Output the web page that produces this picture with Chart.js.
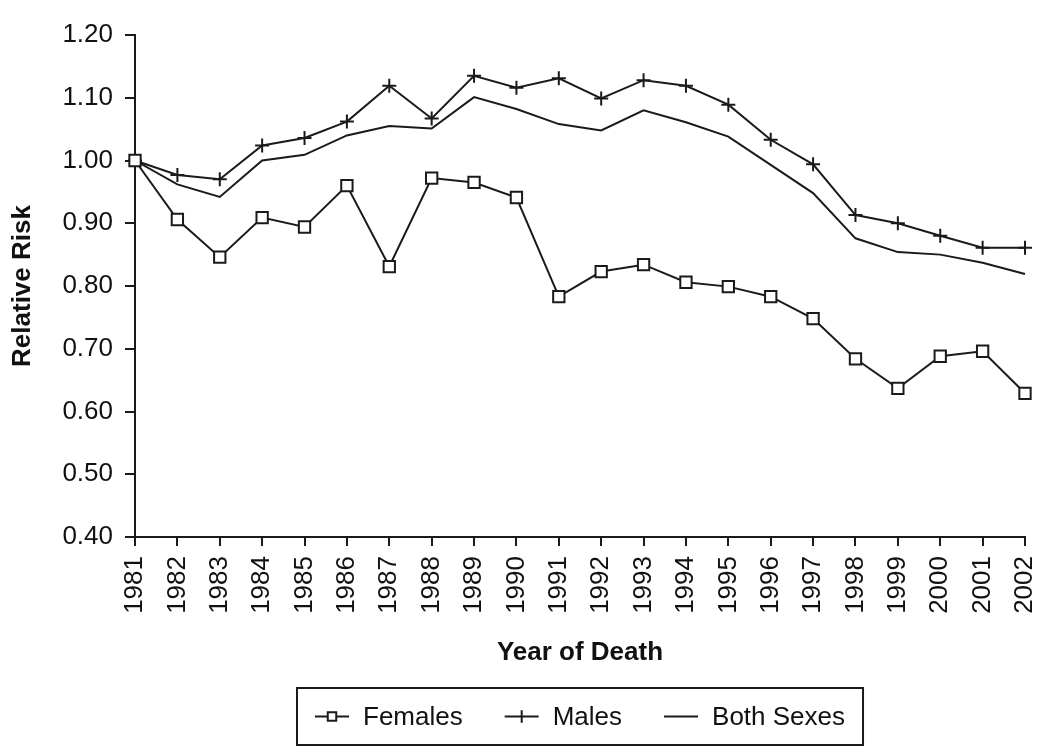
<!DOCTYPE html>
<html>
<head>
<meta charset="utf-8">
<script src="https://cdn.jsdelivr.net/npm/chart.js@4/dist/chart.umd.min.js"></script>
<style>
  body { margin: 0; background: #fff; }
  #wrap { width: 1050px; height: 752px; }
</style>
</head>
<body>
<div id="wrap"><canvas id="riskChart" width="1050" height="752"></canvas></div>
<script>
const years = ['1981', '1982', '1983', '1984', '1985', '1986', '1987', '1988', '1989', '1990', '1991',
               '1992', '1993', '1994', '1995', '1996', '1997', '1998', '1999', '2000', '2001', '2002'];

const females = [1.000, 0.906, 0.846, 0.909, 0.894, 0.960, 0.831, 0.972, 0.965, 0.941, 0.783,
                 0.823, 0.834, 0.806, 0.799, 0.783, 0.748, 0.684, 0.637, 0.688, 0.696, 0.629];

const males = [1.000, 0.977, 0.970, 1.024, 1.036, 1.062, 1.119, 1.067, 1.135, 1.116, 1.131,
               1.099, 1.128, 1.119, 1.089, 1.033, 0.994, 0.913, 0.900, 0.880, 0.861, 0.861];

const bothSexes = [1.000, 0.962, 0.942, 1.000, 1.009, 1.040, 1.055, 1.051, 1.101, 1.082, 1.058,
                   1.048, 1.080, 1.061, 1.038, 0.993, 0.948, 0.876, 0.854, 0.850, 0.837, 0.819];

const yMin = 0.40, yMax = 1.20, yStep = 0.10;

const ink = '#1a1a1a';
const fontFamily = '"Liberation Sans", Arial, Helvetica, sans-serif';

// legend drawn by hand: line with the point marker in the middle, boxed
const boxLegend = {
    id: 'boxLegend',
    afterDraw(chart) {
        const ctx = chart.ctx;
        const area = chart.chartArea;
        const sets = chart.data.datasets;
        const markerW = 34, gap = 14, spacing = 42, padX = 18;
        const top = 688, height = 57;

        ctx.save();
        ctx.font = '26px ' + fontFamily;
        let total = padX * 2;
        const widths = sets.map(ds => ctx.measureText(ds.label).width);
        widths.forEach((w, i) => {
            total += markerW + gap + w;
            if (i < widths.length - 1) total += spacing;
        });
        const cx = (area.left + area.right) / 2;
        let left = Math.round(cx - total / 2);

        ctx.strokeStyle = ink;
        ctx.lineWidth = 2;
        ctx.strokeRect(left, top, total, height);

        let x = left + padX;
        const midY = top + height / 2;
        sets.forEach((ds, i) => {
            ctx.strokeStyle = ink;
            ctx.lineWidth = 2;
            ctx.beginPath();
            ctx.moveTo(x, midY);
            ctx.lineTo(x + markerW, midY);
            ctx.stroke();
            if (ds.pointRadius > 0) {
                ctx.fillStyle = '#fff';
                ctx.beginPath();
                if (ds.pointStyle === 'rect') {
                    const s = ds.pointRadius * 0.75 * Math.SQRT1_2;
                    ctx.rect(x + markerW / 2 - s, midY - s, s * 2, s * 2);
                    ctx.fill();
                    ctx.stroke();
                } else {
                    const r = ds.pointRadius * 0.9;
                    ctx.moveTo(x + markerW / 2, midY - r);
                    ctx.lineTo(x + markerW / 2, midY + r);
                    ctx.stroke();
                }
            }
            x += markerW + gap;
            ctx.fillStyle = '#111';
            ctx.textBaseline = 'middle';
            ctx.textAlign = 'left';
            ctx.fillText(ds.label, x, midY + 1);
            x += widths[i] + spacing;
        });
        ctx.restore();
    }
};

const ctx = document.getElementById('riskChart').getContext('2d');

const riskChart = new Chart(ctx, {
    type: 'line',
    data: {
        labels: years,
        datasets: [
            {
                label: 'Females',
                data: females,
                borderColor: ink,
                borderWidth: 2,
                pointStyle: 'rect',
                pointRadius: 8,
                pointBorderWidth: 2,
                pointBackgroundColor: '#fff',
                pointBorderColor: ink,
                tension: 0,
                clip: false
            },
            {
                label: 'Males',
                data: males,
                borderColor: ink,
                borderWidth: 2,
                pointStyle: 'cross',
                pointRadius: 7,
                pointBorderWidth: 2,
                pointBorderColor: ink,
                tension: 0,
                clip: false
            },
            {
                label: 'Both Sexes',
                data: bothSexes,
                borderColor: ink,
                borderWidth: 2,
                pointRadius: 0,
                tension: 0,
                clip: false
            }
        ]
    },
    options: {
        responsive: false,
        animation: false,
        layout: {
            padding: { top: 35, right: 25, bottom: 77, left: 0 }
        },
        plugins: {
            legend: { display: false },
            tooltip: { enabled: false }
        },
        scales: {
            x: {
                type: 'category',
                offset: false,
                grid: {
                    display: true,
                    drawOnChartArea: false,
                    drawTicks: true,
                    tickLength: 9,
                    color: ink,
                    lineWidth: 2
                },
                border: { display: true, color: ink, width: 2 },
                ticks: {
                    autoSkip: false,
                    maxRotation: 90,
                    minRotation: 90,
                    padding: 10,
                    color: '#111',
                    font: { family: fontFamily, size: 26 }
                },
                title: {
                    display: true,
                    text: 'Year of Death',
                    color: '#111',
                    font: { family: fontFamily, size: 26, weight: 'bold' },
                    padding: { top: 0, bottom: 7 }
                },
                afterFit: scale => {
                    scale.height = 138;
                    scale.paddingLeft = 0;
                    scale.paddingRight = 0;
                }
            },
            y: {
                min: yMin,
                max: yMax,
                grid: {
                    display: true,
                    drawOnChartArea: false,
                    drawTicks: true,
                    tickLength: 10,
                    color: ink,
                    lineWidth: 2
                },
                border: { display: true, color: ink, width: 2 },
                ticks: {
                    stepSize: yStep,
                    padding: 12,
                    color: '#111',
                    font: { family: fontFamily, size: 26 },
                    callback: v => Number(v).toFixed(2)
                },
                title: {
                    display: true,
                    text: 'Relative Risk',
                    color: '#111',
                    font: { family: fontFamily, size: 26, weight: 'bold' },
                    padding: { top: 7, bottom: 0 }
                },
                afterFit: scale => {
                    scale.width = 135;
                    scale.paddingTop = 0;
                    scale.paddingBottom = 0;
                }
            }
        }
    },
    plugins: [boxLegend]
});
</script>
</body>
</html>
